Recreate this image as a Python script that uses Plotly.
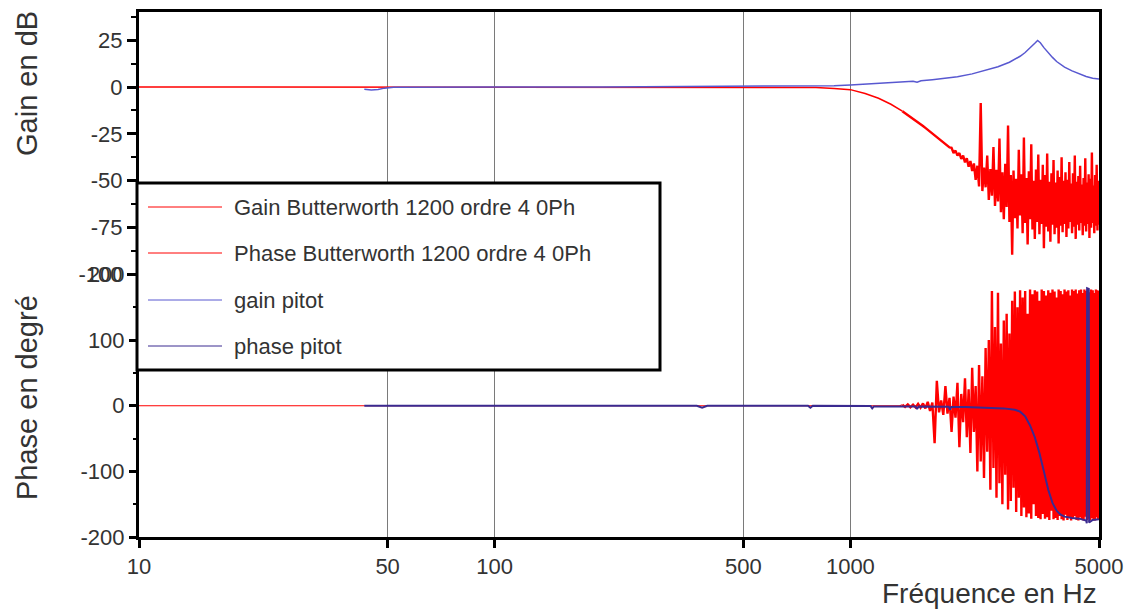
import math
import plotly.graph_objects as go

# ---------------- data ----------------
# Butterworth (red), low-frequency part
f_bw_gain_lf = [10, 100, 500, 700, 800, 900, 1000, 1100, 1200, 1300, 1375]
bw_gain_lf = [0.0, 0.0, -0.02, -0.11, -0.33, -0.83, -1.4, -3.5, -6.0, -9.2, -12.0]
f_bw_phase_lf = [10, 1375]
bw_phase_lf = [0.0, 0.0]

# Butterworth (red), high-frequency (noisy) part
f_hf = [
    1400, 1425, 1450, 1475, 1500, 1525, 1550, 1575,
    1600, 1625, 1650, 1675, 1700, 1725, 1750, 1775,
    1800, 1825, 1850, 1875, 1900, 1925, 1950, 1975,
    2000, 2025, 2050, 2075, 2100, 2125, 2150, 2175,
    2200, 2225, 2250, 2275, 2300, 2325, 2350, 2375,
    2400, 2425, 2450, 2475, 2500, 2525, 2550, 2575,
    2600, 2625, 2650, 2675, 2700, 2725, 2750, 2775,
    2800, 2825, 2850, 2875, 2900, 2925, 2950, 2975,
    3000, 3025, 3050, 3075, 3100, 3125, 3150, 3175,
    3200, 3225, 3250, 3275, 3300, 3325, 3350, 3375,
    3400, 3425, 3450, 3475, 3500, 3525, 3550, 3575,
    3600, 3625, 3650, 3675, 3700, 3725, 3750, 3775,
    3800, 3825, 3850, 3875, 3900, 3925, 3950, 3975,
    4000, 4025, 4050, 4075, 4100, 4125, 4150, 4175,
    4200, 4225, 4250, 4275, 4300, 4325, 4350, 4375,
    4400, 4425, 4450, 4475, 4500, 4525, 4550, 4575,
    4600, 4625, 4650, 4675, 4700, 4725, 4750, 4775,
    4800, 4825, 4850, 4875, 4900, 4925, 4950, 4975,
    5000]
bw_gain_hf = [
    -12.9, -13.9, -14.9, -15.9, -16.9, -17.9, -18.8, -19.8,
    -20.8, -21.8, -22.8, -23.8, -24.7, -25.7, -26.6, -27.6,
    -28.5, -29.4, -30.4, -31.3, -32.2, -32.4, -35.2, -33.9,
    -36.6, -35.2, -38.4, -36.6, -40.2, -38.0, -42.5, -39.5,
    -44.8, -40.8, -49.5, -42.0, -53.0, -8.5, -55.5, -43.0,
    -53.5, -36.5, -60.2, -43.8, -58.0, -32.0, -63.5, -44.2,
    -61.0, -27.5, -66.8, -45.5, -70.5, -41.0, -64.0, -20.5,
    -72.0, -47.0, -89.5, -44.5, -70.0, -49.0, -75.5, -33.5,
    -68.5, -46.5, -78.0, -27.0, -72.5, -48.5, -84.0, -45.0,
    -70.5, -30.5, -76.0, -50.0, -81.0, -44.0, -72.0, -36.0,
    -78.5, -49.5, -73.0, -41.5, -86.0, -47.0, -74.5, -35.5,
    -77.0, -50.5, -82.5, -46.0, -73.5, -39.0, -78.5, -51.0,
    -75.0, -44.5, -83.5, -48.0, -74.0, -37.5, -77.5, -50.0,
    -73.0, -45.5, -80.0, -49.5, -75.5, -40.0, -72.0, -51.5,
    -78.0, -46.0, -74.5, -36.5, -81.0, -50.5, -73.5, -47.5,
    -76.5, -42.0, -72.5, -52.0, -79.0, -48.5, -74.0, -38.0,
    -77.0, -51.0, -73.0, -46.5, -80.5, -49.0, -75.0, -35.0,
    -72.5, -52.5, -78.0, -47.0, -74.0, -41.5, -76.5, -50.0,
    -73.5]
bw_phase_hf = [
    1.5, -1.8, 2.0, -2.2, 1.6, -2.5, 2.8, -3.0,
    3.5, -4.0, 6.0, -8.0, 5.0, -57.0, 38.0, -10.0,
    8.0, -14.0, 30.0, -12.0, 12.0, -40.0, 14.0, -18.0,
    35.0, -63.0, 18.0, -25.0, 42.0, -48.0, 25.0, -72.0,
    58.0, -40.0, 30.0, -100.0, 62.0, -85.0, 45.0, -110.0,
    88.0, -70.0, 100.0, -128.0, 175.0, -95.0, 120.0, -140.0,
    172.0, -118.0, 95.0, -150.0, 130.0, -105.0, 140.0, -158.0,
    110.0, -145.0, 160.0, -125.0, 174.0, -162.0, 150.0, -140.0,
    176.0, -168.0, 165.0, -155.0, 175.0, -170.0, 140.0, -164.0,
    177.0, -172.0, 170.0, -150.0, 176.0, -168.0, 174.0, -171.0,
    160.0, -173.0, 177.0, -165.0, 175.0, -172.0, 168.0, -170.0,
    176.0, -174.0, 172.0, -160.0, 177.0, -173.0, 174.0, -171.0,
    165.0, -174.0, 177.0, -168.0, 175.0, -173.0, 170.0, -175.0,
    177.0, -166.0, 174.0, -174.0, 176.0, -170.0, 168.0, -175.0,
    177.0, -172.0, 175.0, -168.0, 177.0, -174.0, 171.0, -175.0,
    176.0, -170.0, 177.0, -173.0, 172.0, -175.0, 177.0, -169.0,
    175.0, -174.0, 177.0, -172.0, 173.0, -175.0, 177.0, -171.0,
    176.0, -174.0, 172.0, -175.0, 177.0, -170.0, 176.0, -174.0,
    175.0]

# Pitot (blue)
f_pitot_gain = [43, 45, 47, 49, 52, 60, 100, 200, 300, 400, 500, 600, 700, 800, 900, 1000,
                1100, 1200, 1300, 1400, 1500, 1540, 1580, 1700, 1800, 1900, 2000, 2200, 2400,
                2600, 2800, 3000, 3100, 3200, 3300, 3360, 3420, 3500, 3600, 3700, 3800, 4000,
                4200, 4400, 4600, 4800, 5000]
pitot_gain = [-1.2, -1.6, -1.3, -0.6, -0.1, 0.0, 0.0, 0.0, 0.1, 0.1, 0.2, 0.2, 0.3, 0.4, 0.7, 1.1,
              1.6, 2.0, 2.4, 2.7, 3.1, 2.5, 3.3, 3.9, 4.4, 5.0, 5.5, 7.0, 8.9,
              10.8, 13.2, 16.4, 18.4, 20.7, 23.3, 24.8, 23.6, 21.0, 18.2, 15.8, 13.6, 10.6,
              8.6, 7.0, 5.6, 4.7, 4.2]
f_pitot_phase = [43, 100, 370, 383, 396, 760, 772, 784, 1140, 1152, 1164, 1525, 1540, 1555,
                 1890, 1905, 1920, 2100, 2300, 2500, 2700, 2900, 3000, 3100, 3200, 3300, 3400,
                 3500, 3600, 3700, 3800, 3900, 4000, 4200, 4400, 4600, 4620, 4630, 4680, 4690,
                 4800, 5000]
pitot_phase = [0, 0, 0, -3, 0, 0, -3, 0, -0.5, -4, -1, -1, -5, -1,
               -1.5, -6, -2, -2, -3, -3, -4, -6, -9, -16, -30, -48, -72,
               -100, -128, -148, -160, -166, -169, -171, -172, -175, -179, 179, 178, -178,
               -174, -173]

names = ["Gain Butterworth 1200 ordre 4 0Ph", "Phase Butterworth 1200 ordre 4 0Ph",
         "gain pitot", "phase pitot"]
colors = ["#ff0000", "#ff0000", "#5858d0", "#3a2a90"]

x_tickvals = [10, 50, 100, 500, 1000, 5000]
x_ticktext = ["10", "50", "100", "500", "1000", "5000"]
gain_tickvals = [-100, -75, -50, -25, 0, 25]
gain_ticktext = ["-100", "-75", "-50", "-25", "0", "25"]
gain_minor = [-87.5, -62.5, -37.5, -12.5, 12.5, 37.5]
phase_tickvals = [-200, -100, 0, 100, 200]
phase_ticktext = ["-200", "-100", "0", "100", "200"]
phase_minor = [-150, -50, 50, 150]

assert len(f_hf) == len(bw_gain_hf) == len(bw_phase_hf)
assert len(f_pitot_gain) == len(pitot_gain)
assert len(f_pitot_phase) == len(pitot_phase)

# ---------------- figure ----------------
# the page body adds an 8px margin; positions below are given in screen pixels
OFF = 8
W, H = 1133 - OFF, 609 - OFF
PLOT_L, PLOT_R, PLOT_T, PLOT_B = 139, 1099, 12, 537   # screen pixels of the frame
L, T = PLOT_L - OFF, PLOT_T - OFF
PW, PH = PLOT_R - PLOT_L, PLOT_B - PLOT_T
R, B = W - L - PW, H - T - PH


def px(xs):
    return (xs - PLOT_L) / PW


def py(ys):
    return (PLOT_B - ys) / PH


FONT = "Liberation Sans, Arial, Helvetica, sans-serif"
TXT = "#333333"

fig = go.Figure()
# Butterworth gain: smooth part (thin) + dense noisy part (drawn thicker, as the dense record looks)
fig.add_trace(go.Scatter(x=f_bw_gain_lf + f_hf[:1], y=bw_gain_lf + bw_gain_hf[:1], mode="lines",
                         name=names[0], legendgroup="g0", line=dict(color=colors[0], width=1.5),
                         yaxis="y", showlegend=False))
fig.add_trace(go.Scatter(x=f_hf, y=bw_gain_hf, mode="lines",
                         name=names[0], legendgroup="g0", line=dict(color=colors[0], width=2.4),
                         yaxis="y", showlegend=False))
# Butterworth phase
fig.add_trace(go.Scatter(x=f_bw_phase_lf + f_hf[:1], y=bw_phase_lf + bw_phase_hf[:1], mode="lines",
                         name=names[1], legendgroup="g1", line=dict(color=colors[1], width=1.2),
                         yaxis="y2", showlegend=False))
fig.add_trace(go.Scatter(x=f_hf, y=bw_phase_hf, mode="lines",
                         name=names[1], legendgroup="g1", line=dict(color=colors[1], width=2.4),
                         yaxis="y2", showlegend=False))
# Pitot
fig.add_trace(go.Scatter(x=f_pitot_gain, y=pitot_gain, mode="lines",
                         name=names[2], line=dict(color=colors[2], width=1.5),
                         yaxis="y", showlegend=False))
fig.add_trace(go.Scatter(x=f_pitot_phase, y=pitot_phase, mode="lines",
                         name=names[3], line=dict(color=colors[3], width=2),
                         yaxis="y2", showlegend=False))

tick_font = dict(family=FONT, size=22, color=TXT)

fig.update_layout(
    width=W, height=H,
    margin=dict(l=L, r=R, t=T, b=B, autoexpand=False),
    paper_bgcolor="white", plot_bgcolor="white",
    font=dict(family=FONT, size=22, color=TXT),
    showlegend=False,
    xaxis=dict(type="log", range=[1, math.log10(5000)],
               tickmode="array", tickvals=x_tickvals, ticktext=x_ticktext,
               ticks="outside", ticklen=8, tickwidth=3, tickcolor="black",
               tickfont=tick_font,
               showline=True, linewidth=3, linecolor="black", mirror=True,
               showgrid=True, gridcolor="#7a7a7a", gridwidth=1, zeroline=False),
    yaxis=dict(range=[-240, 40], tickmode="array", tickvals=gain_tickvals, ticktext=gain_ticktext,
               ticks="outside", ticklen=9, tickwidth=3, tickcolor="black",
               tickfont=tick_font,
               minor=dict(tickmode="array", tickvals=gain_minor, ticks="outside", ticklen=5,
                          tickwidth=2, tickcolor="black", showgrid=False),
               showline=True, linewidth=3, linecolor="black", mirror=True,
               showgrid=False, zeroline=False),
    yaxis2=dict(range=[-200, 600], overlaying="y", side="left", anchor="x",
                tickmode="array", tickvals=phase_tickvals, ticktext=phase_ticktext,
                ticks="outside", ticklen=9, tickwidth=3, tickcolor="black",
                tickfont=tick_font,
                minor=dict(tickmode="array", tickvals=phase_minor, ticks="outside", ticklen=5,
                           tickwidth=2, tickcolor="black", showgrid=False),
                showline=False, showgrid=False, zeroline=False),
)

# legend drawn as a boxed panel (as in the original software)
box_x0, box_x1, box_y0, box_y1 = 137, 660, 183, 370
row_y = [207, 253, 300, 346]
shapes = [dict(type="rect", xref="paper", yref="paper",
               x0=px(box_x0), x1=px(box_x1), y0=py(box_y1), y1=py(box_y0),
               line=dict(color="black", width=3), fillcolor="white", layer="above")]
annotations = []
for name, col, yy in zip(names, colors, row_y):
    shapes.append(dict(type="line", xref="paper", yref="paper",
                       x0=px(148), x1=px(222), y0=py(yy), y1=py(yy),
                       line=dict(color=col, width=1), layer="above"))
    annotations.append(dict(xref="paper", yref="paper", x=px(232), y=py(yy),
                            xanchor="left", yanchor="middle", showarrow=False,
                            text=name, font=dict(family=FONT, size=22, color=TXT)))

annotations += [
    dict(xref="paper", yref="paper", x=px(27), y=py(84), textangle=-90,
         xanchor="center", yanchor="middle", showarrow=False, text="Gain en dB",
         font=dict(family=FONT, size=29, color=TXT)),
    dict(xref="paper", yref="paper", x=px(27), y=py(398), textangle=-90,
         xanchor="center", yanchor="middle", showarrow=False, text="Phase en degré",
         font=dict(family=FONT, size=29, color=TXT)),
    dict(xref="paper", yref="paper", x=px(1099), y=py(593),
         xanchor="right", yanchor="middle", showarrow=False, text="Fréquence en Hz",
         font=dict(family=FONT, size=28, color=TXT)),
]
fig.update_layout(shapes=shapes, annotations=annotations)

fig.write_html("out.html")
